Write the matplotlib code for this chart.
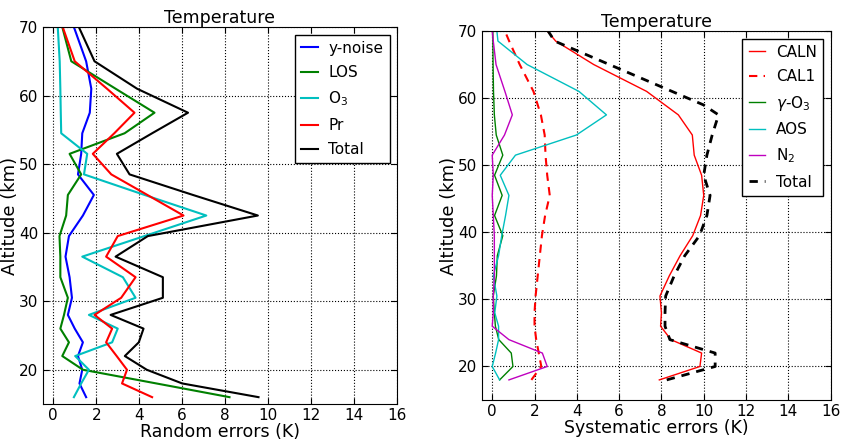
import numpy as np
import matplotlib
matplotlib.use("Agg")
import matplotlib.pyplot as plt

plt.rcParams['font.family'] = ['DejaVu Sans']
plt.rcParams['xtick.direction'] = 'in'
plt.rcParams['ytick.direction'] = 'in'

# ---- random errors (left panel) ----
alt_rand = [16, 18, 20, 22, 24, 26, 28, 30.5, 33.5, 36.5, 39.5, 42.5, 45.5,
            48.5, 51.5, 54.5, 57.5, 61, 65, 70]
ynoise = [1.53, 1.22, 1.35, 1.15, 1.38, 1.0, 0.68, 0.87, 0.76, 0.57, 0.73,
          1.38, 1.89, 1.15, 1.3, 1.35, 1.7, 1.77, 1.53, 0.96]
los = [8.2, 4.8, 1.38, 0.42, 0.73, 0.33, 0.5, 0.68, 0.33, 0.33, 0.29,
       0.6, 0.68, 1.3, 0.76, 3.32, 4.71, 2.9, 0.84, 0.42]
o3 = [0.96, 1.3, 1.66, 1.02, 2.74, 3.0, 1.66, 3.83, 3.24, 1.35, 4.24,
      7.12, 4.25, 1.43, 1.58, 0.37, 0.35, 0.33, 0.3, 0.21]
pr = [4.6, 3.2, 3.43, 2.95, 2.46, 2.74, 1.92, 3.16, 3.83, 2.46, 3.0,
      6.06, 4.38, 2.7, 1.84, 2.84, 3.78, 2.5, 1.0, 0.44]
total_rand = [9.55, 6.0, 4.35, 3.33, 3.98, 4.2, 2.67, 5.1, 5.1, 2.9, 4.4,
              9.52, 6.5, 3.55, 2.96, 4.6, 6.27, 3.9, 1.92, 1.19]

# ---- systematic errors (right panel) ----
alt_sys = [18, 20, 22, 24, 26, 28, 30.5, 33.5, 36.5, 39.5, 42.5, 45.5,
           48.5, 51.5, 54.5, 57.5, 61, 65, 68.5, 70]
caln = [7.9, 9.82, 9.9, 8.45, 7.96, 8.0, 7.93, 8.37, 8.88, 9.48, 9.85, 10.0,
        9.9, 9.55, 9.46, 8.8, 7.3, 4.8, 3.0, 2.6]
cal1 = [1.85, 2.32, 2.2, 2.08, 2.0, 2.0, 2.05, 2.15, 2.25, 2.35, 2.5, 2.72,
        2.6, 2.52, 2.48, 2.3, 1.95, 1.3, 0.8, 0.6]
gamma_o3 = [0.35, 0.98, 0.9, 0.31, 0.15, 0.1, 0.05, 0.2, 0.24, 0.5, 0.11,
            0.47, 0.11, 0.5, 0.19, 0.1, 0.06, 0.04, 0.03, 0.03]
aos = [0.35, 0.0, 0.16, 0.3, 0.3, 0.12, 0.22, 0.05, 0.3, 0.45, 0.63, 0.79,
       0.38, 1.1, 3.98, 5.4, 4.1, 1.65, 0.27, 0.22]
n2 = [0.79, 2.6, 2.37, 0.79, 0.0, 0.05, 0.05, 0.1, 0.1, 0.1, 0.05, 0.0,
      0.05, 0.0, 0.58, 0.95, 0.6, 0.18, 0.05, 0.0]
alt_total_sys = [18, 20, 22, 24, 26, 28, 30.5, 33.5, 36.5, 39.5, 42.5, 45.5,
                 48.5, 51.5, 54.5, 57.5, 59, 68.5, 70]
total_sys = [8.25, 10.54, 10.54, 8.4, 8.17, 8.17, 8.2, 8.6, 9.1, 9.8, 10.15,
             10.3, 10.0, 10.15, 10.4, 10.7, 9.98, 2.95, 2.64]

fig = plt.figure(figsize=(8.45, 4.43), dpi=100)
ax1 = fig.add_axes([0.0503, 0.088, 0.4197, 0.851])
ax2 = fig.add_axes([0.570, 0.097, 0.413, 0.833])

ax1.plot(ynoise, alt_rand, color='b', lw=1.5, label='y-noise')
ax1.plot(los, alt_rand, color='g', lw=1.5, label='LOS')
ax1.plot(o3, alt_rand, color='c', lw=1.5, label='O$_3$')
ax1.plot(pr, alt_rand, color='r', lw=1.5, label='Pr')
ax1.plot(total_rand, alt_rand, color='k', lw=1.5, label='Total')
ax1.set_xlabel('Random errors (K)', fontsize=12.5)

ax2.plot(caln, alt_sys, color='r', lw=1.0, label='CALN')
ax2.plot(cal1, alt_sys, color='r', lw=1.5, ls='--', dashes=(4, 3), label='CAL1')
ax2.plot(gamma_o3, alt_sys, color='g', lw=1.0, label=r'$\gamma$-O$_3$')
ax2.plot(aos, alt_sys, color='c', lw=1.0, label='AOS')
ax2.plot(n2, alt_sys, color='m', lw=1.0, label='N$_2$')
ax2.plot(total_sys, alt_total_sys, color='k', lw=2.0, ls='--', dashes=(3, 2.5),
         label='Total')
ax2.set_xlabel('Systematic errors (K)', fontsize=12.5)

for ax in (ax1, ax2):
    ax.set_xlim(-0.5, 16)
    ax.set_ylim(15, 70)
    ax.set_xticks(range(0, 17, 2))
    ax.set_yticks(range(20, 71, 10))
    ax.grid(True, ls=':', color='k', lw=0.8)
    ax.tick_params(labelsize=11, top=True, right=True, length=4, pad=3)
    ax.set_title('Temperature', fontsize=12.5, pad=3)
    ax.set_ylabel('Altitude (km)', fontsize=13, labelpad=0)
    ax.xaxis.labelpad = 0
    leg = ax.legend(loc='upper right', fontsize=11, handlelength=1.1,
                    handletextpad=0.7, fancybox=False, framealpha=1,
                    borderaxespad=0.5, labelspacing=0.62)
    leg.get_frame().set_edgecolor('k')

fig.savefig('out.png', dpi=100)
